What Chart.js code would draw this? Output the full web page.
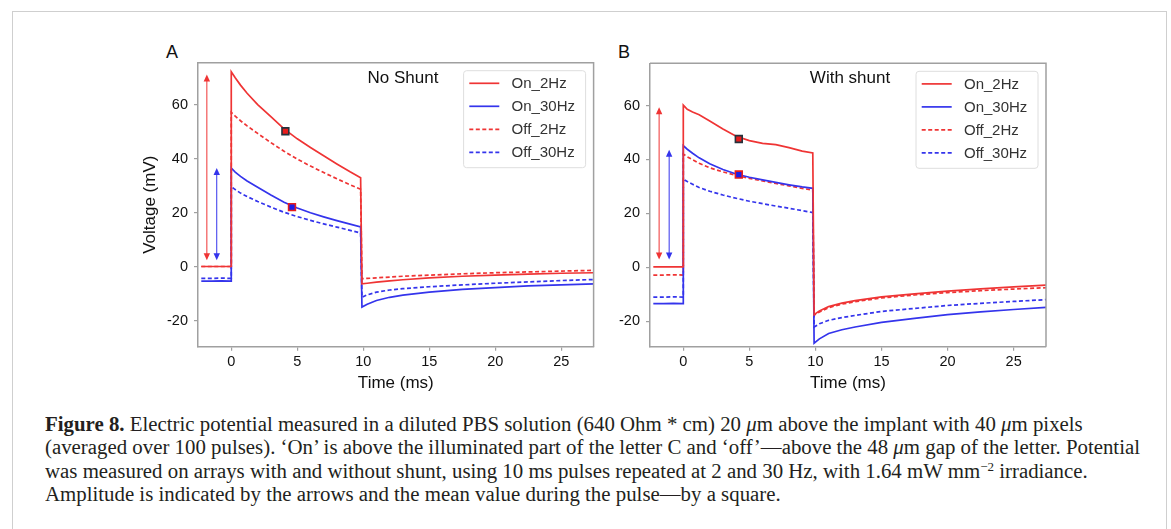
<!DOCTYPE html>
<html><head><meta charset="utf-8">
<script src="https://cdn.jsdelivr.net/npm/chart.js@4.4.0/dist/chart.umd.min.js"></script>
<style>
html,body{margin:0;padding:0;background:#fff;}
body{width:1171px;height:529px;position:relative;overflow:hidden;}
#frame{position:absolute;left:12px;top:11px;width:1155px;height:560px;border:1.5px solid #cfcfcf;box-sizing:border-box;}
.panel{position:absolute;}
.lbl{position:absolute;font-family:"Liberation Sans",Arial,sans-serif;font-size:18px;line-height:18px;color:#111;}
#caption{position:absolute;left:45px;top:413px;font-family:"Liberation Serif","Times New Roman",serif;font-size:20px;line-height:23.3px;color:#231f20;white-space:nowrap;transform-origin:0 0;}
#caption div{white-space:nowrap;}
#caption b{font-weight:bold;}
#caption sup{font-size:12.5px;line-height:0;vertical-align:7px;}
</style></head>
<body>
<div id="frame"></div>
<div class="lbl" style="left:166px;top:43px;">A</div>
<div class="lbl" style="left:618px;top:43px;">B</div>
<div class="panel" style="left:130px;top:40px;width:470px;height:360px;"><canvas id="cA" width="470" height="360"></canvas></div>
<div class="panel" style="left:600px;top:40px;width:460px;height:360px;"><canvas id="cB" width="460" height="360"></canvas></div>
<div id="caption">
<div id="l1"><b>Figure 8.</b> Electric potential measured in a diluted PBS solution (640 Ohm * cm) 20 <i>μ</i>m above the implant with 40 <i>μ</i>m pixels</div>
<div id="l2">(averaged over 100 pulses). ‘On’ is above the illuminated part of the letter C and ‘off’—above the 48 <i>μ</i>m gap of the letter. Potential</div>
<div id="l3">was measured on arrays with and without shunt, using 10 ms pulses repeated at 2 and 30 Hz, with 1.64 mW mm<sup>−2</sup> irradiance.</div>
<div id="l4">Amplitude is indicated by the arrows and the mean value during the pulse—by a square.</div>
</div>
<script>
// ---------- data ----------
const TIME = [-2.27, -1.5, -0.75, 0, 0, 0.3, 0.7, 1.2, 2, 3, 4, 5, 6, 7, 8, 9, 9.8, 9.9, 10.3, 11, 12, 13, 15, 17.5, 20, 22.5, 25, 27.5];
const SERIES_NAMES = ['On_2Hz', 'On_30Hz', 'Off_2Hz', 'Off_30Hz'];

const A_ON_2HZ   = [0.2, 0.2, 0.2, 0.2, 72.3, 70.1, 67.4, 64.4, 60.2, 55.7, 51.2, 47.5, 44.3, 41.2, 38.2, 35.3, 33.1, -6.2, -6.0, -5.6, -5.1, -4.7, -4.0, -3.4, -3.0, -2.6, -2.3, -2.1];
const A_ON_30HZ  = [-5.2, -5.2, -5.1, -5.2, 36.7, 35.2, 33.6, 31.9, 29.6, 26.7, 24.0, 21.9, 20.1, 18.6, 17.2, 15.9, 14.9, -14.8, -13.8, -12.4, -11.2, -10.4, -9.3, -8.3, -7.6, -7.0, -6.6, -6.2];
const A_OFF_2HZ  = [0.2, 0.2, 0.2, 0.2, 57.3, 55.9, 54.2, 52.3, 49.5, 46.1, 42.9, 40.0, 37.4, 35.0, 32.7, 30.5, 28.8, -4.3, -4.2, -4.0, -3.7, -3.4, -3.0, -2.5, -2.1, -1.8, -1.5, -1.2];
const A_OFF_30HZ = [-4.2, -4.2, -4.1, -4.2, 29.8, 28.7, 27.4, 26.1, 24.3, 22.2, 20.3, 18.7, 17.3, 16.0, 14.8, 13.6, 12.6, -11.2, -10.3, -9.3, -8.5, -8.0, -7.3, -6.6, -6.0, -5.5, -5.0, -4.6];

const B_ON_2HZ   = [0.1, 0.1, 0.1, 0.1, 60.2, 58.6, 57.6, 56.6, 54.3, 51.3, 48.6, 47.0, 46.0, 45.5, 44.4, 43.1, 42.4, -17.6, -16.2, -14.6, -13.3, -12.4, -11.0, -9.9, -8.9, -8.0, -7.3, -6.6];
const B_ON_30HZ  = [-13.5, -13.5, -13.4, -13.5, 45.1, 43.8, 42.3, 40.6, 38.4, 36.3, 34.6, 33.4, 32.4, 31.5, 30.6, 29.8, 29.3, -28.2, -26.6, -24.6, -23.2, -22.2, -20.5, -19.0, -17.6, -16.6, -15.7, -14.9];
const B_OFF_2HZ  = [-2.9, -2.9, -2.8, -2.9, 42.0, 41.0, 39.9, 38.6, 36.9, 35.4, 34.1, 33.0, 32.0, 31.1, 30.2, 29.3, 28.6, -17.8, -16.6, -15.0, -13.7, -12.8, -11.4, -10.3, -9.4, -8.7, -8.1, -7.6];
const B_OFF_30HZ = [-11.1, -11.1, -11.0, -11.1, 32.7, 31.8, 30.8, 29.6, 28.2, 26.8, 25.6, 24.5, 23.6, 22.7, 21.9, 21.0, 20.3, -22.2, -21.0, -19.7, -18.7, -17.9, -16.4, -15.3, -14.2, -13.4, -12.7, -12.0];

// mean-value squares [time, voltage]
const A_SQUARE_ON_2HZ = [4.1, 50.3];
const A_SQUARE_ON_30HZ = [4.6, 22.2];
const B_SQUARE_ON_2HZ = [4.2, 47.6];
const B_SQUARE_ON_30HZ = [4.2, 34.4];

// amplitude arrows: time position, low end, high end
const A_ARROW_T = [-1.85, -1.1];
const A_ARROW_LOW = [2.5, 2.5];
const A_ARROW_HIGH = [71.3, 36.7];
const B_ARROW_T = [-1.83, -1.07];
const B_ARROW_LOW = [2.9, 2.9];
const B_ARROW_HIGH = [59.4, 43.6];

const X_TICKS = [0, 5, 10, 15, 20, 25];
const Y_TICKS = [-20, 0, 20, 40, 60];
const X_MIN = -2.52, X_MAX = 27.45, Y_MIN = -29.5, Y_MAX = 75.7;

// ---------- styles ----------
const RED = '#ef3434', BLUE = '#3434ec';
const AXIS = '#a0a0a0';
const SANS = '"Liberation Sans", Arial, sans-serif';

function pts(ys) { return TIME.map((t, i) => ({x: t, y: ys[i]})); }

function lineDs(label, ys, color, dashed) {
  return {label, data: pts(ys), borderColor: color, backgroundColor: color, borderWidth: 1.7,
    borderDash: dashed ? [4, 2.5] : [], pointRadius: 0, tension: 0, fill: false, order: 1};
}
function squareDs(p, fill, edge) {
  return {label: '_sq', data: [{x: p[0], y: p[1]}], showLine: false, pointStyle: 'rect', pointRadius: 4.8,
    pointBackgroundColor: fill, pointBorderColor: edge, pointBorderWidth: 1.6, order: -1};
}

const customPlugin = {
  id: 'custom',
  afterDatasetsDraw(chart, args, o) {
    const ctx = chart.ctx, ca = chart.chartArea;
    const xs = chart.scales.x, ys = chart.scales.y;
    ctx.save();
    // arrows
    o.arrowT.forEach((t, i) => {
      const x = xs.getPixelForValue(t);
      const yl = ys.getPixelForValue(o.arrowLow[i]);
      const yh = ys.getPixelForValue(o.arrowHigh[i]);
      const c = i === 0 ? RED : BLUE;
      ctx.strokeStyle = c; ctx.fillStyle = c; ctx.lineWidth = 1;
      ctx.beginPath(); ctx.moveTo(x, yl - 5); ctx.lineTo(x, yh + 5); ctx.stroke();
      ctx.beginPath(); ctx.moveTo(x, yh); ctx.lineTo(x - 3.2, yh + 7); ctx.lineTo(x + 3.2, yh + 7); ctx.closePath(); ctx.fill();
      ctx.beginPath(); ctx.moveTo(x, yl); ctx.lineTo(x - 3.2, yl - 7); ctx.lineTo(x + 3.2, yl - 7); ctx.closePath(); ctx.fill();
    });
    // frame top/right
    ctx.strokeStyle = AXIS; ctx.lineWidth = 1.5;
    ctx.beginPath(); ctx.moveTo(ca.left, ca.top); ctx.lineTo(ca.right, ca.top); ctx.lineTo(ca.right, ca.bottom); ctx.stroke();
    // title
    ctx.fillStyle = '#111'; ctx.font = '17px ' + SANS; ctx.textAlign = 'center'; ctx.textBaseline = 'middle';
    ctx.fillText(o.title, ca.left + o.titleDx, ca.top + 15.5);
    // legend
    const w = 122, h = 97, left = ca.right - 8 - w, top = ca.top + 8;
    ctx.fillStyle = 'rgba(255,255,255,0.85)'; ctx.strokeStyle = '#dedede'; ctx.lineWidth = 1;
    ctx.beginPath(); ctx.roundRect(left, top, w, h, 3); ctx.fill(); ctx.stroke();
    ctx.font = '15px ' + SANS; ctx.textAlign = 'left'; ctx.textBaseline = 'middle';
    for (let i = 0; i < 4; i++) {
      const ds = chart.data.datasets[i];
      const y = top + 12.6 + i * 23;
      ctx.strokeStyle = ds.borderColor; ctx.lineWidth = 1.7; ctx.setLineDash(ds.borderDash);
      ctx.beginPath(); ctx.moveTo(left + 5.7, y); ctx.lineTo(left + 35.7, y); ctx.stroke();
      ctx.setLineDash([]);
      ctx.fillStyle = '#333'; ctx.fillText(ds.label, left + 48, y + 0.5);
    }
    ctx.restore();
  }
};

function makeChart(id, series, sqOn2, sqOn30, arrows, opts) {
  const datasets = [
    lineDs(SERIES_NAMES[0], series[0], RED, false),
    lineDs(SERIES_NAMES[1], series[1], BLUE, false),
    lineDs(SERIES_NAMES[2], series[2], RED, true),
    lineDs(SERIES_NAMES[3], series[3], BLUE, true),
    squareDs(sqOn2, '#e81c1c', '#25323c'),
    squareDs(sqOn30, '#1c1ce8', '#e81c1c')
  ];
  return new Chart(document.getElementById(id), {
    type: 'line',
    data: {datasets},
    plugins: [customPlugin],
    options: {
      responsive: false, animation: false, devicePixelRatio: 1,
      layout: {padding: {left: 0, right: opts.padRight, top: opts.padTop, bottom: 0}},
      plugins: {
        legend: {display: false}, tooltip: {enabled: false},
        custom: {arrowT: arrows[0], arrowLow: arrows[1], arrowHigh: arrows[2], title: opts.title, titleDx: opts.titleDx}
      },
      scales: {
        x: {
          type: 'linear', min: X_MIN, max: X_MAX,
          afterBuildTicks: s => { s.ticks = X_TICKS.map(v => ({value: v})); },
          afterFit: s => { s.height = 53.3; },
          ticks: {color: '#111', font: {family: SANS, size: 14.5}, padding: 3, maxRotation: 0, callback: v => String(v)},
          grid: {drawOnChartArea: false, drawTicks: true, tickLength: 4, color: AXIS, lineWidth: 1.2},
          border: {color: AXIS, width: 1.5},
          title: {display: true, text: 'Time (ms)', color: '#111', font: {family: SANS, size: 17}, padding: {top: 0, bottom: 6.5}}
        },
        y: {
          type: 'linear', min: Y_MIN, max: Y_MAX,
          afterBuildTicks: s => { s.ticks = Y_TICKS.map(v => ({value: v})); },
          afterFit: s => { s.width = opts.yWidth; },
          ticks: {color: '#111', font: {family: SANS, size: 14.5}, padding: 6, callback: v => String(v)},
          grid: {drawOnChartArea: false, drawTicks: true, tickLength: 4, color: AXIS, lineWidth: 1.2},
          border: {color: AXIS, width: 1.5},
          title: {display: opts.yTitle, text: 'Voltage (mV)', color: '#111', font: {family: SANS, size: 17}, padding: {top: 9.8, bottom: 0}}
        }
      }
    }
  });
}

makeChart('cA', [A_ON_2HZ, A_ON_30HZ, A_OFF_2HZ, A_OFF_30HZ], A_SQUARE_ON_2HZ, A_SQUARE_ON_30HZ,
  [A_ARROW_T, A_ARROW_LOW, A_ARROW_HIGH], {padRight: 4, padTop: 22.7, yWidth: 68, yTitle: true, title: 'No Shunt', titleDx: 205});
makeChart('cB', [B_ON_2HZ, B_ON_30HZ, B_OFF_2HZ, B_OFF_30HZ], B_SQUARE_ON_2HZ, B_SQUARE_ON_30HZ,
  [B_ARROW_T, B_ARROW_LOW, B_ARROW_HIGH], {padRight: 14, padTop: 23.3, yWidth: 50, yTitle: false, title: 'With shunt', titleDx: 200});

// fit caption width to the reference line length
const cap = document.getElementById('caption');
const w2 = document.getElementById('l2').getBoundingClientRect().width;
cap.style.transform = 'scaleX(' + (1095 / w2) + ')';
</script>
</body></html>
